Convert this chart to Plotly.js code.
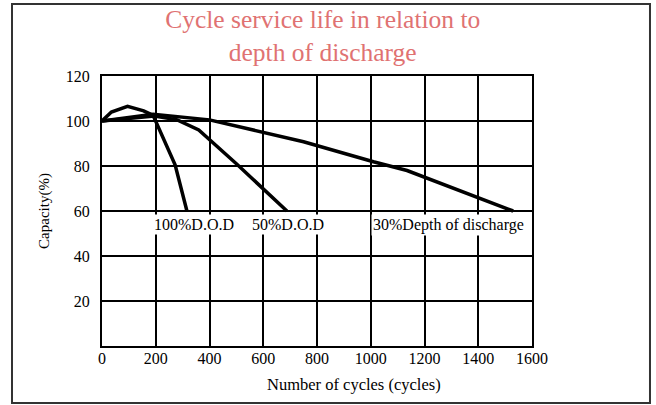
<!DOCTYPE html>
<html>
<head>
<meta charset="utf-8">
<script src="https://cdn.plot.ly/plotly-3.0.1.min.js"></script>
<style>html,body{margin:0;padding:0;background:#fff;}#chart{width:656px;height:405px;}</style>
</head>
<body>
<div id="chart"></div>
<script>
// Cycles (x) and capacity % (y) for each depth of discharge
const dod100Cycles = [0, 35, 95, 155, 190, 272, 316];
const dod100Capacity = [100, 104, 106.5, 104.5, 102.5, 80.5, 60];

const dod50Cycles = [0, 100, 195, 280, 360, 500, 688];
const dod50Capacity = [100, 101, 102.2, 100.5, 96, 81, 60];

const dod30Cycles = [0, 190, 400, 750, 1010, 1135, 1530];
const dod30Capacity = [100, 103, 100.5, 90.8, 81.9, 78, 60];

const seriesNames = ["100%D.O.D", "50%D.O.D", "30%Depth of discharge"];
const labelX = [186, 551, 1001];
const labelY = [54, 54, 54];

const xTicks = [0, 200, 400, 600, 800, 1000, 1200, 1400, 1600];
const yTicks = [20, 40, 60, 80, 100, 120];

const serif = "Liberation Serif";
const lineStyle = {color: "#000", width: 3.5};

const traces = [
  {x: dod100Cycles, y: dod100Capacity, name: seriesNames[0]},
  {x: dod50Cycles, y: dod50Capacity, name: seriesNames[1]},
  {x: dod30Cycles, y: dod30Capacity, name: seriesNames[2]}
].map(t => Object.assign(t, {type: "scatter", mode: "lines", line: lineStyle, hoverinfo: "x+y"}));

const annotations = seriesNames.map((s, i) => ({
  x: labelX[i], y: labelY[i], xref: "x", yref: "y", text: s, showarrow: false,
  xanchor: "left", yanchor: "middle", bgcolor: "#fff", borderpad: 1,
  font: {family: serif, size: 16, color: "#000"}
}));
annotations.push({
  x: 0.587, y: -0.1, xref: "paper", yref: "paper", text: "Number of cycles (cycles)",
  showarrow: false, xanchor: "center", yanchor: "top",
  font: {family: serif, size: 16.5, color: "#000"}
});

const layout = {
  width: 656, height: 405,
  margin: {l: 102, r: 124, t: 76, b: 59},
  paper_bgcolor: "#fff", plot_bgcolor: "#fff",
  showlegend: false,
  font: {family: serif},
  title: {
    text: "Cycle service life in relation to<br>depth of discharge",
    font: {family: serif, size: 25.5, color: "#e07272"},
    x: 0.492, xref: "container", xanchor: "center",
    y: 0.932, yref: "container", yanchor: "top"
  },
  xaxis: {
    range: [0, 1600], tickvals: xTicks, ticks: "", showgrid: true, ticklabelstandoff: -3,
    gridcolor: "#000", gridwidth: 2, showline: true, linecolor: "#000", linewidth: 2, mirror: true,
    zeroline: false, tickfont: {family: serif, size: 16, color: "#000"}, automargin: false
  },
  yaxis: {
    range: [0, 120], tickvals: yTicks, ticks: "", showgrid: true, ticklabelstandoff: 7,
    gridcolor: "#000", gridwidth: 2, showline: true, linecolor: "#000", linewidth: 2, mirror: true,
    zeroline: false, tickfont: {family: serif, size: 16, color: "#000"}, automargin: false,
    title: {text: "Capacity(%)", font: {family: serif, size: 15, color: "#000"}, standoff: 13}
  },
  annotations: annotations,
  shapes: [{
    type: "rect", xref: "paper", yref: "paper",
    x0: -0.2093, x1: 1.2744, y0: -0.2111, y1: 1.2667,
    line: {color: "#333", width: 2}, fillcolor: "rgba(0,0,0,0)", layer: "below"
  }]
};

Plotly.newPlot("chart", traces, layout, {staticPlot: true, displayModeBar: false});
</script>
</body>
</html>
